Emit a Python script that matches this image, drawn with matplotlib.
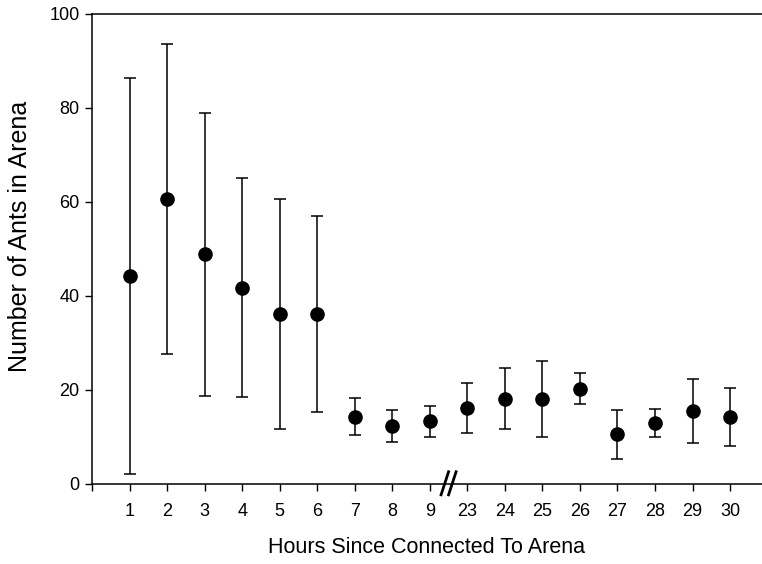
import matplotlib
matplotlib.use("Agg")
import matplotlib.pyplot as plt
import matplotlib.transforms as mtransforms
import numpy as np

# hours since connected (axis is broken between 9 and 23)
hours = ["1", "2", "3", "4", "5", "6", "7", "8", "9",
         "23", "24", "25", "26", "27", "28", "29", "30"]
mean_ants = [44.3, 60.6, 48.9, 41.8, 36.2, 36.2, 14.3, 12.3, 13.3,
             16.2, 18.1, 18.1, 20.3, 10.6, 13.0, 15.5, 14.3]
err_ants = [42.1, 33.0, 30.1, 23.3, 24.5, 20.9, 3.9, 3.4, 3.4,
            5.3, 6.5, 8.1, 3.3, 5.2, 3.0, 6.8, 6.2]

plt.rcParams["font.family"] = ["Liberation Sans", "DejaVu Sans"]

fig = plt.figure(figsize=(7.62, 5.64), dpi=100)
ax = fig.add_axes([92 / 762, 1 - 484 / 564, 1 - 92 / 762, 470 / 564])

x = np.arange(1, len(hours) + 1)
ax.errorbar(x, mean_ants, yerr=err_ants, fmt="o", color="black",
            markersize=9.5, elinewidth=1.1, capsize=4, capthick=1.1)

ax.set_xlim(0, 17.85)
ax.set_ylim(0, 100)
ax.set_xticks(np.arange(0, len(hours) + 1))
ax.set_xticklabels([""] + hours)
ax.set_yticks([0, 20, 40, 60, 80, 100])

ax.spines["right"].set_visible(False)
for side in ("left", "bottom", "top"):
    ax.spines[side].set_linewidth(1.1)

ax.tick_params(direction="out", length=5, width=1, labelsize=13, colors="black")
ax.tick_params(axis="x", pad=9)
ax.tick_params(axis="y", pad=4)

ax.set_xlabel("Hours Since Connected To Arena", fontsize=15.5, labelpad=12)
ax.set_ylabel("Number of Ants in Arena", fontsize=18)
ax.yaxis.set_label_coords(-0.089, 0.527)

# axis break marks between 9 and 23
trans = mtransforms.blended_transform_factory(ax.transData, ax.transAxes)
brk = 9.5
for dx in (-0.1, 0.1):
    ax.plot([brk + dx - 0.1, brk + dx + 0.1], [-0.023, 0.026], color="black",
            lw=2, transform=trans, clip_on=False)

fig.savefig("out.png", dpi=100)
